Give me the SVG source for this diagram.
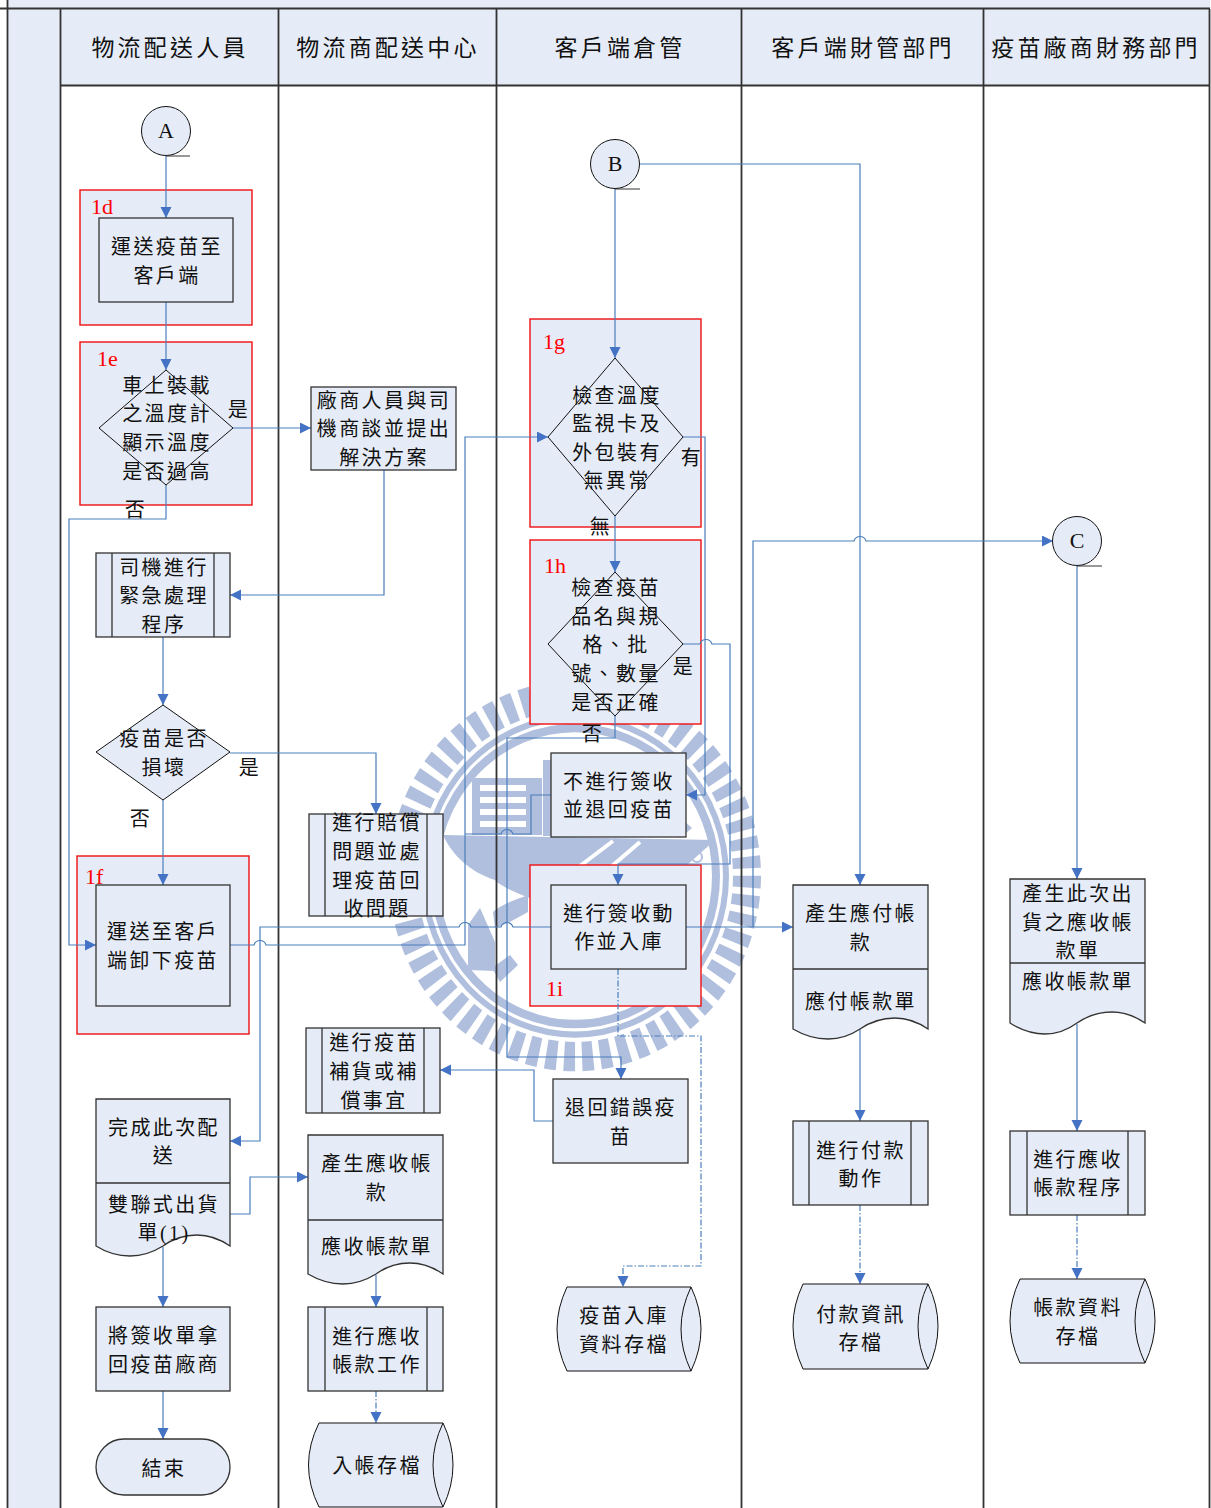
<svg xmlns="http://www.w3.org/2000/svg" width="1211" height="1508" viewBox="0 0 1211 1508">
<style>
text{font-family:"Liberation Serif","Noto Sans CJK TC",serif;fill:#111;dominant-baseline:central;text-anchor:middle}
.t{font-size:20px;letter-spacing:2.4px;transform:translateY(1px)}
.h{font-size:23px;letter-spacing:3.2px}
.r{font-size:22px;fill:#f00;text-anchor:start;transform:translateY(-1px)}
.l{font-size:22px;transform:translateY(-1px)}
.n{fill:#e6ecf7;stroke:#333;stroke-width:1.3}
.rb{fill:#e6ecf7;stroke:#f01010;stroke-width:1.4}
.d{fill:#e6ecf7;stroke:#111;stroke-width:1}
.c{fill:none;stroke:#4a7ebb;stroke-width:1.2}
.a{marker-end:url(#ah)}
.dd{stroke-dasharray:6 2 1.5 2}
.w{fill:#b0bfdd;stroke:none}
.lane{stroke:#333;stroke-width:1.8;fill:none}
</style>
<defs>
<marker id="ah" markerUnits="userSpaceOnUse" markerWidth="12" markerHeight="12" refX="11" refY="5.5" orient="auto"><path d="M0,0L11,5.5L0,11Z" fill="#4472c4"/></marker>
</defs>
<rect width="1211" height="1508" fill="#fff"/>
<g id="lanes-bg">
<rect x="7" y="0" width="1203" height="8" fill="#e6ecf7"/>
<rect x="7" y="9" width="53" height="1499" fill="#e6ecf7"/>
<rect x="60" y="9" width="1150" height="76" fill="#e6ecf7"/>
</g>
<g id="watermark">
<g transform="translate(575 876) scale(1 1.05)">
<circle r="172" fill="none" stroke="#b0bfdd" stroke-width="28" stroke-dasharray="11 7"/>
<circle r="151" fill="none" stroke="#b0bfdd" stroke-width="6"/>
<circle r="141" fill="none" stroke="#b0bfdd" stroke-width="8"/>
</g>
<path class="w" d="M443,835L715,840L686,866L655,885L600,905L548,905C525,896 502,888 495,880C470,872 452,855 443,835Z"/>
<path class="w" fill-rule="evenodd" d="M472,778H542V835H472ZM480,785V791H526V785ZM480,797V803H526V797ZM480,809V815H526V809ZM480,821V827H526V821Z"/>
<rect class="w" x="543" y="760" width="8" height="76"/>
<path class="w" d="M468,925L480,908L495,942V971L468,970Z"/>
<path class="w" d="M492,968L510,955L518,965L500,982Z"/>
<path class="w" d="M493,912C500,905 515,900 528,895V912L508,923L495,928Z"/>
<path class="w" d="M683,820L692,828L680,838L672,830Z"/>
<path d="M580,866L613,841M612,866L640,842" stroke="#fff" stroke-width="4" fill="none"/>
<circle cx="697" cy="857" r="5" fill="none" stroke="#b0bfdd" stroke-width="2"/>
</g>
<g id="lanes">
<path class="lane" d="M0,8.5H1210M7.5,0V1508M60.5,9V1508M278.5,9V1508M496.5,9V1508M741.5,9V1508M983.5,9V1508M1209.5,9V1508M60,85.5H1210"/>
<text class="h" x="170" y="48">物流配送人員</text>
<text class="h" x="388" y="48">物流商配送中心</text>
<text class="h" x="620" y="48">客戶端倉管</text>
<text class="h" x="863" y="48">客戶端財管部門</text>
<text class="h" x="1096" y="48">疫苗廠商財務部門</text>
</g>
<g id="box-1d"><rect class="rb" x="80" y="190" width="172" height="135"/><text class="r" x="91" y="207">1d</text></g>
<g id="box-1e"><rect class="rb" x="80" y="342" width="172" height="163"/><text class="r" x="97" y="359">1e</text></g>
<g id="box-1f"><rect class="rb" x="77" y="856" width="172" height="178"/><text class="r" x="85" y="877">1f</text></g>
<g id="box-1g"><rect class="rb" x="530" y="319" width="171" height="208"/><text class="r" x="543" y="342">1g</text></g>
<g id="box-1h"><rect class="rb" x="530" y="540" width="171" height="184"/><text class="r" x="544" y="566">1h</text></g>
<g id="box-1i"><rect class="rb" x="530" y="865" width="171" height="141"/><text class="r" x="546" y="989">1i</text></g>
<g id="connectors">
<path class="c a" d="M166,156V218"/>
<path class="c a" d="M166,302V370"/>
<path class="c a" d="M233,428H311"/>
<path class="c a" d="M166,485V519H69V945H96"/>
<path class="c a" d="M384,470V595H230"/>
<path class="c a" d="M163,637V705"/>
<path class="c a" d="M230,753H376V814"/>
<path class="c a" d="M163,800V885"/>
<path class="c a" d="M230,945H254C256,939 264,939 266,945H465V437H548"/>
<path class="c a" d="M551,927H513C511,921 503,921 501,927H471C469,921 461,921 459,927H260V1141H230"/>
<path class="c a" d="M686,927H793"/>
<path class="c a" d="M753,927V541H854C856,535 864,535 866,541H1053"/>
<path class="c a" d="M615,189V358"/>
<path class="c a" d="M640,164H860V885"/>
<path class="c a" d="M615,516V572"/>
<path class="c a" d="M683,644H700C702,638 710,638 712,644H730V864H618V885"/>
<path class="c a" d="M683,437H705V795H686"/>
<path class="c a" d="M615,716V738H507V1057H621V1079"/>
<path class="c" d="M551,795H531V834H513C511,828 503,828 501,834H465"/>
<path class="c a" d="M553,1121H534V1070H440"/>
<path class="c a dd" d="M618,969V1036H701V1266H623V1287"/>
<path class="c a" d="M230,1214H250V1177H308"/>
<path class="c a" d="M163,1247V1307"/>
<path class="c a" d="M163,1391V1439"/>
<path class="c a" d="M376,1275V1307"/>
<path class="c a dd" d="M376,1391V1423"/>
<path class="c a" d="M860,1029V1121"/>
<path class="c a dd" d="M860,1205V1284"/>
<path class="c a" d="M1077,566V879"/>
<path class="c a" d="M1077,1024V1131"/>
<path class="c a dd" d="M1077,1215V1279"/>
</g>
<g id="node-A"><circle class="d" cx="166" cy="131" r="24.5"/><path d="M166,156H190" stroke="#333" fill="none"/><text class="l" x="166" y="131">A</text></g>
<g id="node-B"><circle class="d" cx="615" cy="164" r="24.5"/><path d="M615,189H640" stroke="#333" fill="none"/><text class="l" x="615" y="164">B</text></g>
<g id="node-C"><circle class="d" cx="1077" cy="541" r="24.5"/><path d="M1077,566H1102" stroke="#333" fill="none"/><text class="l" x="1077" y="541">C</text></g>
<g id="n-deliver"><rect class="n" x="99" y="218" width="134" height="84"/><text class="t" x="167" y="246">運送疫苗至</text><text class="t" x="167" y="275">客戶端</text></g>
<g id="n-tempcheck"><path class="d" d="M166,370L233,428L166,485L99,428Z"/><text class="t" x="167" y="385">車上裝載</text><text class="t" x="167" y="413">之溫度計</text><text class="t" x="167" y="442">顯示溫度</text><text class="t" x="167" y="471">是否過高</text><text class="t" x="239" y="409">是</text><text class="t" x="136" y="509">否</text></g>
<g id="n-talk"><rect class="n" x="311" y="387" width="145" height="83"/><text class="t" x="384" y="400">廠商人員與司</text><text class="t" x="384" y="428">機商談並提出</text><text class="t" x="384" y="457">解決方案</text></g>
<g id="n-emergency"><rect class="n" x="96" y="553" width="134" height="84"/><path class="n" d="M112,553V637M214,553V637"/><text class="t" x="164" y="567">司機進行</text><text class="t" x="164" y="595">緊急處理</text><text class="t" x="164" y="624">程序</text></g>
<g id="n-damaged"><path class="d" d="M163,705L230,752L163,800L96,752Z"/><text class="t" x="164" y="738">疫苗是否</text><text class="t" x="164" y="767">損壞</text><text class="t" x="250" y="767">是</text><text class="t" x="141" y="818">否</text></g>
<g id="n-compensate"><rect class="n" x="309" y="814" width="134" height="102"/><path class="n" d="M325,814V916M427,814V916"/><text class="t" x="377" y="822">進行賠償</text><text class="t" x="377" y="851">問題並處</text><text class="t" x="377" y="880">理疫苗回</text><text class="t" x="377" y="908">收問題</text></g>
<g id="n-unload"><rect class="n" x="96" y="885" width="134" height="121"/><text class="t" x="163" y="931">運送至客戶</text><text class="t" x="163" y="960">端卸下疫苗</text></g>
<g id="n-complete"><path class="n" d="M96,1099H230V1246Q214,1235 197,1235Q178,1235 163,1246Q147,1256 130,1256Q112,1256 96,1246Z"/><path class="n" d="M96,1183H230"/><text class="t" x="164" y="1127">完成此次配</text><text class="t" x="164" y="1155">送</text><text class="t" x="164" y="1204">雙聯式出貨</text><text class="t" x="164" y="1232">單(1)</text></g>
<g id="n-return"><rect class="n" x="96" y="1307" width="134" height="84"/><text class="t" x="164" y="1335">將簽收單拿</text><text class="t" x="164" y="1364">回疫苗廠商</text></g>
<g id="n-end"><rect class="n" x="96" y="1439" width="134" height="56" rx="28"/><text class="t" x="164" y="1468">結束</text></g>
<g id="n-restock"><rect class="n" x="306" y="1028" width="134" height="85"/><path class="n" d="M322,1028V1113M424,1028V1113"/><text class="t" x="374" y="1042">進行疫苗</text><text class="t" x="374" y="1071">補貨或補</text><text class="t" x="374" y="1100">償事宜</text></g>
<g id="n-receivable"><path class="n" d="M308,1135H443V1274Q427,1263 410,1263Q391,1263 376,1274Q360,1284 343,1284Q325,1284 308,1274Z"/><path class="n" d="M308,1220H443"/><text class="t" x="377" y="1163">產生應收帳</text><text class="t" x="377" y="1192">款</text><text class="t" x="377" y="1246">應收帳款單</text></g>
<g id="n-recvwork"><rect class="n" x="308" y="1307" width="135" height="84"/><path class="n" d="M325,1307V1391M427,1307V1391"/><text class="t" x="377" y="1336">進行應收</text><text class="t" x="377" y="1364">帳款工作</text></g>
<g id="n-store1"><path class="d" d="M319,1423H443Q463,1465 443,1507H319Q298,1465 319,1423Z"/><path class="d" d="M443,1423Q423,1465 443,1507"/><text class="t" x="377" y="1465">入帳存檔</text></g>
<g id="n-check"><path class="d" d="M615,358L683,437L615,516L548,437Z"/><text class="t" x="617" y="395">檢查溫度</text><text class="t" x="617" y="423">監視卡及</text><text class="t" x="617" y="452">外包裝有</text><text class="t" x="617" y="480">無異常</text><text class="t" x="692" y="457">有</text><text class="t" x="601" y="526">無</text></g>
<g id="n-verify"><path class="d" d="M615,572L683,644L615,716L548,644Z"/><text class="t" x="616" y="587">檢查疫苗</text><text class="t" x="616" y="616">品名與規</text><text class="t" x="616" y="644">格、批</text><text class="t" x="616" y="673">號、數量</text><text class="t" x="616" y="702">是否正確</text><text class="t" x="684" y="666">是</text><text class="t" x="593" y="733">否</text></g>
<g id="n-reject"><rect class="n" x="551" y="753" width="135" height="84"/><text class="t" x="619" y="781">不進行簽收</text><text class="t" x="619" y="809">並退回疫苗</text></g>
<g id="n-sign"><rect class="n" x="551" y="885" width="135" height="84"/><text class="t" x="619" y="913">進行簽收動</text><text class="t" x="619" y="941">作並入庫</text></g>
<g id="n-returnwrong"><rect class="n" x="553" y="1079" width="135" height="84"/><text class="t" x="621" y="1107">退回錯誤疫</text><text class="t" x="621" y="1136">苗</text></g>
<g id="n-store2"><path class="d" d="M567,1287H691Q711,1329 691,1371H567Q547,1329 567,1287Z"/><path class="d" d="M691,1287Q671,1329 691,1371"/><text class="t" x="624" y="1315">疫苗入庫</text><text class="t" x="624" y="1344">資料存檔</text></g>
<g id="n-payable"><path class="n" d="M793,885H928V1029Q912,1018 895,1018Q876,1018 860,1029Q845,1039 828,1039Q810,1039 793,1029Z"/><path class="n" d="M793,969H928"/><text class="t" x="861" y="913">產生應付帳</text><text class="t" x="861" y="942">款</text><text class="t" x="861" y="1001">應付帳款單</text></g>
<g id="n-pay"><rect class="n" x="793" y="1121" width="135" height="84"/><path class="n" d="M809,1121V1205M911,1121V1205"/><text class="t" x="861" y="1150">進行付款</text><text class="t" x="861" y="1178">動作</text></g>
<g id="n-store3"><path class="d" d="M803,1284H928Q948,1326 928,1369H803Q783,1326 803,1284Z"/><path class="d" d="M928,1284Q908,1326 928,1369"/><text class="t" x="861" y="1314">付款資訊</text><text class="t" x="861" y="1342">存檔</text></g>
<g id="n-invoice"><path class="n" d="M1010,879H1145V1023Q1129,1012 1112,1012Q1093,1012 1077,1023Q1062,1034 1045,1034Q1027,1034 1010,1023Z"/><path class="n" d="M1010,963H1145"/><text class="t" x="1078" y="893">產生此次出</text><text class="t" x="1078" y="922">貨之應收帳</text><text class="t" x="1078" y="950">款單</text><text class="t" x="1078" y="981">應收帳款單</text></g>
<g id="n-recvproc"><rect class="n" x="1010" y="1131" width="135" height="84"/><path class="n" d="M1027,1131V1215M1128,1131V1215"/><text class="t" x="1078" y="1159">進行應收</text><text class="t" x="1078" y="1187">帳款程序</text></g>
<g id="n-store4"><path class="d" d="M1020,1279H1145Q1165,1321 1145,1363H1020Q1000,1321 1020,1279Z"/><path class="d" d="M1145,1279Q1125,1321 1145,1363"/><text class="t" x="1078" y="1307">帳款資料</text><text class="t" x="1078" y="1336">存檔</text></g>
</svg>
